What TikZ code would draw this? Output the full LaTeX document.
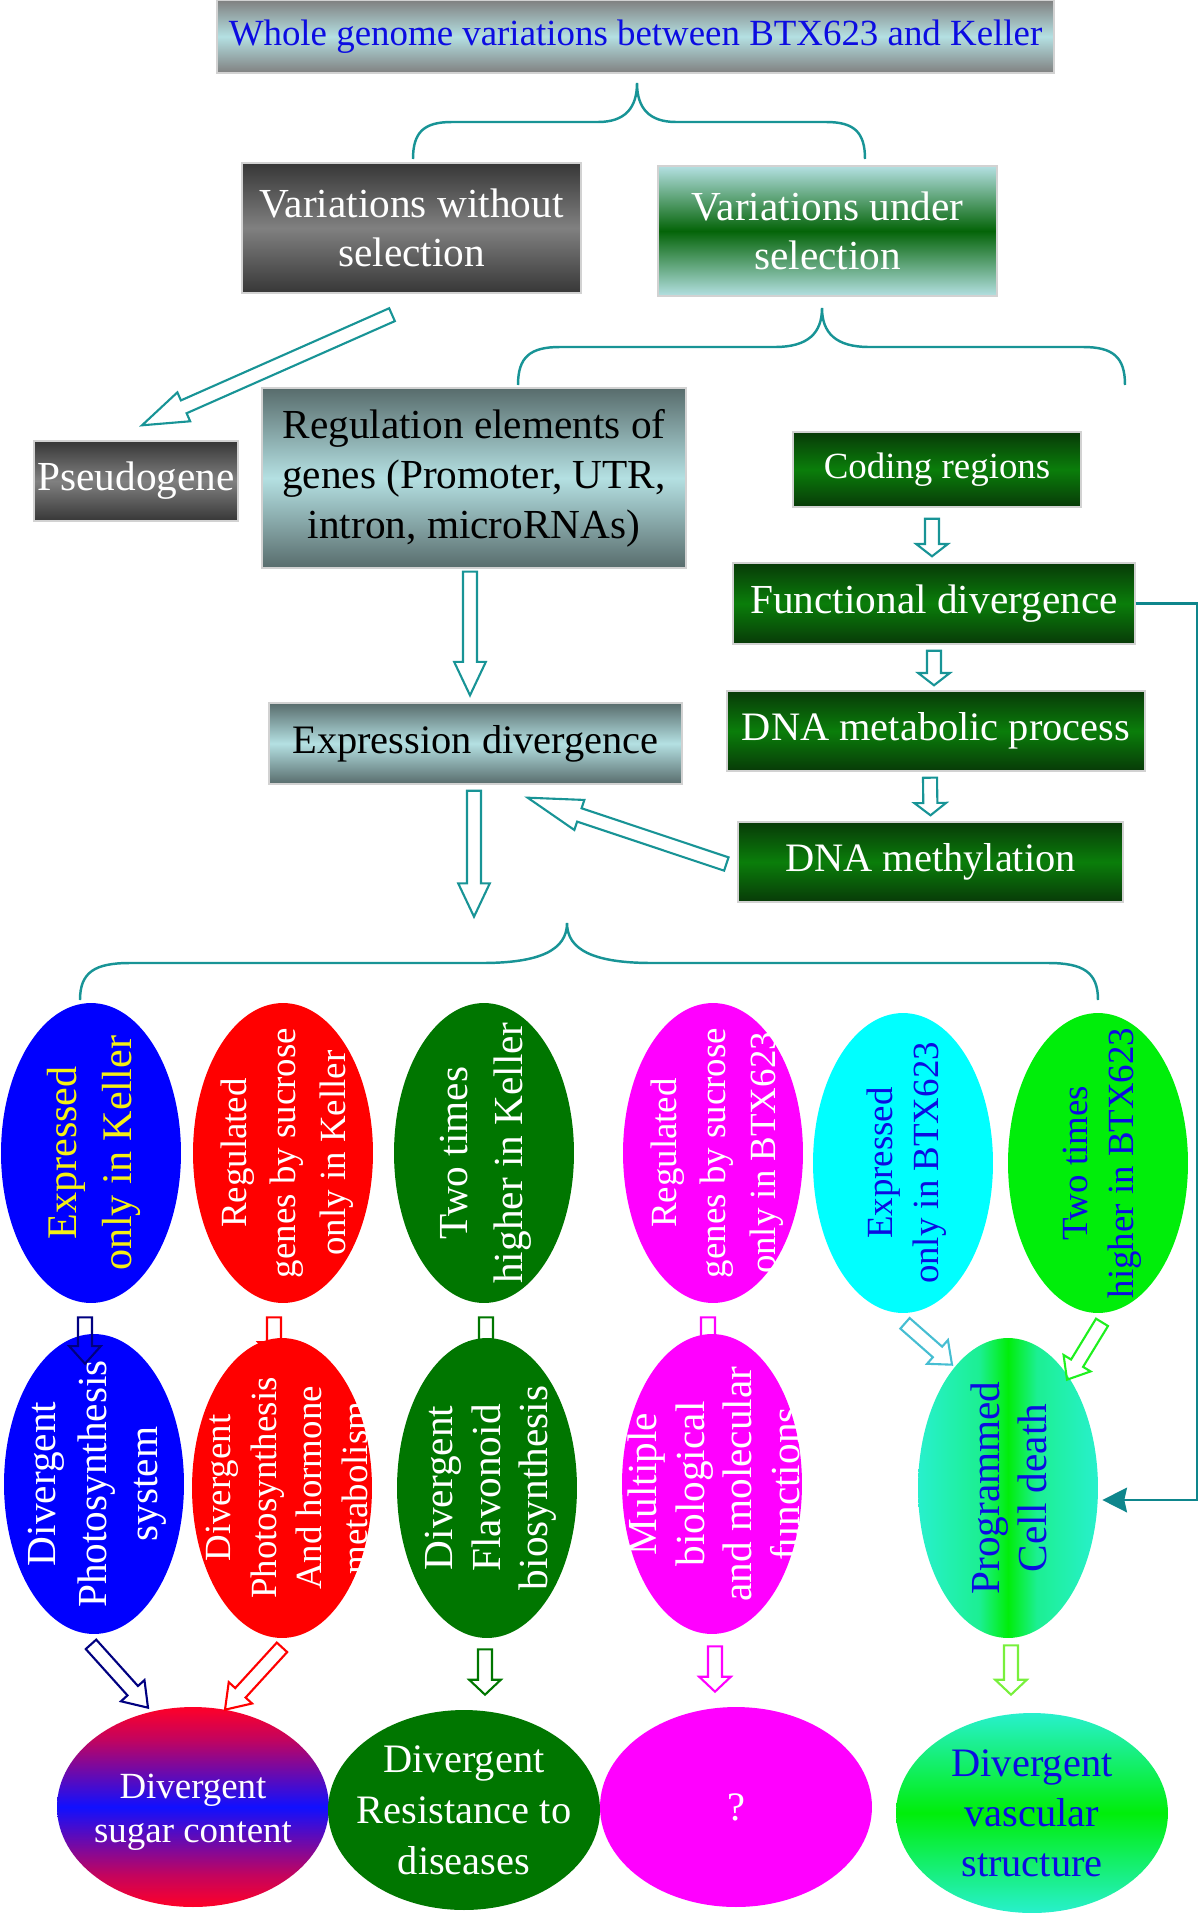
\documentclass[tikz,border=0pt]{standalone}
\usepackage{fontspec}
\setmainfont{Liberation Serif}
\usetikzlibrary{shapes.geometric,calc,arrows.meta}

\definecolor{tealc}{RGB}{24,148,150}
\definecolor{linkc}{RGB}{14,134,140}
\definecolor{navyc}{RGB}{0,0,128}
\definecolor{bluec}{RGB}{0,0,255}
\definecolor{redc}{RGB}{255,0,0}
\definecolor{magentac}{RGB}{255,0,255}
\definecolor{cyanc}{RGB}{0,255,255}
\definecolor{greenc}{RGB}{0,118,0}
\definecolor{limec}{RGB}{0,238,10}
\definecolor{aquac}{RGB}{40,240,205}
\definecolor{cyanarr}{RGB}{70,190,210}
\definecolor{limearr}{RGB}{30,240,30}
\definecolor{lightarr}{RGB}{120,240,60}
\definecolor{paleteal}{RGB}{180,224,226}
\definecolor{slate}{RGB}{88,108,108}
\definecolor{grayd}{RGB}{55,55,55}
\definecolor{graym}{RGB}{128,128,128}
\definecolor{darkg}{RGB}{8,58,8}
\definecolor{midg}{RGB}{10,126,10}
\definecolor{greenv}{RGB}{4,100,8}
\definecolor{textblue}{RGB}{12,12,225}
\definecolor{yellowt}{RGB}{245,240,20}
\definecolor{sugarred}{RGB}{255,0,40}
\definecolor{sugarblue}{RGB}{16,16,255}

\pgfdeclarehorizontalshading{pcdshade}{100bp}{color(0bp)=(aquac); color(25bp)=(aquac); color(42bp)=(aquac!70!limec); color(50bp)=(limec); color(58bp)=(aquac!70!limec); color(75bp)=(aquac); color(100bp)=(aquac)}
\pgfdeclareverticalshading{sugarshade}{100bp}{color(0bp)=(sugarred); color(25bp)=(sugarred); color(33bp)=(sugarred!75!sugarblue); color(50bp)=(sugarblue); color(67bp)=(sugarred!75!sugarblue); color(75bp)=(sugarred); color(100bp)=(sugarred)}

\newcommand{\fsz}[2]{\fontsize{#1}{#2}\selectfont}
\newcommand{\barrow}[4][19pt]{%
  \coordinate (ba-s) at #3;
  \coordinate (ba-e) at #4;
  \coordinate (ba-h) at ($(ba-e)!#1!(ba-s)$);
  \draw[#2, line width=1.2pt, line join=miter]
    ($(ba-s)!4pt!90:(ba-e)$) -- ($(ba-h)!4pt!-90:(ba-s)$) -- ($(ba-h)!9pt!-90:(ba-s)$)
    -- (ba-e) -- ($(ba-h)!9pt!90:(ba-s)$) -- ($(ba-h)!4pt!90:(ba-s)$)
    -- ($(ba-s)!4pt!-90:(ba-e)$) -- cycle;}

\tikzset{
  box/.style={rectangle, draw=gray!35, line width=0.8pt, inner sep=0pt, align=center},
  greybox/.style={top color=grayd, bottom color=grayd, middle color=graym, text=white},
  slatebox/.style={top color=slate, bottom color=slate, middle color=paleteal, text=black},
  greenbox/.style={top color=darkg, bottom color=darkg, middle color=midg, text=white},
  ell/.style={ellipse, inner sep=0pt, minimum width=3.6cm, minimum height=6cm},
  oval/.style={ellipse, inner sep=0pt, minimum width=5.44cm, minimum height=4cm},
  vtxt/.style={rotate=90, align=center, inner sep=0pt},
  htxt/.style={align=center, inner sep=0pt},
  brace/.style={tealc, line width=1.4pt},
  link/.style={linkc, line width=1.6pt, -{Stealth[length=14pt,width=14pt,inset=1.5pt]}}
}

\begin{document}
\begin{tikzpicture}[x=0.02cm,y=-0.02cm]
\useasboundingbox (0,0) rectangle (1200,1913);

\node[box, minimum width=16.74cm, minimum height=1.46cm, top color=graym, bottom color=graym, middle color=paleteal, text=textblue, font=\fsz{21}{25}] (whole) at (635.5,36.5) {Whole genome variations between BTX623 and Keller};
\node[box, greybox, minimum width=6.78cm, minimum height=2.6cm, font=\fsz{23.5}{28}] (varwo) at (411.5,228) {Variations without\\selection};
\node[box, top color=paleteal, bottom color=paleteal, middle color=greenv, text=white, minimum width=6.78cm, minimum height=2.6cm, font=\fsz{23.5}{28}] (varun) at (827.5,231) {Variations under\\selection};
\node[box, greybox, minimum width=4.08cm, minimum height=1.6cm, font=\fsz{23.5}{28}] (pseudo) at (136,481) {Pseudogene};
\node[box, slatebox, minimum width=8.48cm, minimum height=3.6cm, font=\fsz{23.5}{28.5}] (reg) at (474,478) {Regulation elements of\\genes (Promoter, UTR,\\intron, microRNAs)};
\node[box, slatebox, minimum width=8.26cm, minimum height=1.62cm, font=\fsz{23}{28}] (expr) at (475.5,743.5) {Expression divergence};
\node[box, greenbox, minimum width=5.76cm, minimum height=1.5cm, font=\fsz{21}{25}] (coding) at (937,469.5) {Coding regions};
\node[box, greenbox, minimum width=8.04cm, minimum height=1.62cm, font=\fsz{23.5}{28}] (func) at (934,603.5) {Functional divergence};
\node[box, greenbox, minimum width=8.36cm, minimum height=1.6cm, font=\fsz{23}{28}] (dnamet) at (936,731) {DNA metabolic process};
\node[box, greenbox, minimum width=7.7cm, minimum height=1.6cm, font=\fsz{23}{28}] (meth) at (930.5,862) {DNA methylation};

\draw[brace] (413,159) .. controls (413,132) and (424,122) .. (452,122) -- (598,122) .. controls (625,122) and (637,108) .. (637,83) .. controls (637,108) and (649,122) .. (676,122) -- (826,122) .. controls (854,122) and (865,132) .. (865,159);
\draw[brace] (518,385) .. controls (518,357) and (530,347) .. (560,347) -- (775,347) .. controls (808,347) and (822,333) .. (822,308) .. controls (822,333) and (836,347) .. (869,347) -- (1083,347) .. controls (1113,347) and (1125,357) .. (1125,385);
\draw[brace] (80,1000) .. controls (80,972) and (95,963) .. (130,963) -- (482,963) .. controls (540,963) and (567,950) .. (567,923) .. controls (567,950) and (594,963) .. (652,963) -- (1048,963) .. controls (1083,963) and (1098,972) .. (1098,1000);

\foreach \n/\x/\y/\c in {e1/91/1153/bluec, e2/283/1153/redc, e3/484/1153/greenc, e4/713/1153/magentac, e5/903/1163/cyanc, e6/1098/1163/limec}
   \node[ell, fill=\c] (\n) at (\x,\y) {};
\foreach \n/\x/\y/\c in {f1/94/1484/bluec, f2/282/1488/redc, f3/487/1488/greenc, f4/712/1484/magentac}
   \node[ell, fill=\c] (\n) at (\x,\y) {};
\node[ell, shade, shading=pcdshade] (f5) at (1008,1488) {};

\node[oval, shade, shading=sugarshade] (g1) at (193,1807) {};
\node[oval, fill=greenc] (g2) at (464,1810) {};
\node[oval, fill=magentac] (g3) at (736,1807) {};
\node[oval, top color=aquac, bottom color=aquac, middle color=limec] (g4) at (1032,1813) {};

\node[vtxt, text=yellowt, font=\fsz{24}{31}] (e1t) at ($(e1)+(3,0)$) {Expressed\\only in Keller};
\node[vtxt, text=white, font=\fsz{21}{28}] (e2t) at ($(e2)+(4,0)$) {Regulated\\genes by sucrose\\only in Keller};
\node[vtxt, text=white, font=\fsz{23.5}{31}] (e3t) at ($(e3)+(2,0)$) {Two times\\higher in Keller};
\node[vtxt, text=white, font=\fsz{21}{28}] (e4t) at ($(e4)+(4,0)$) {Regulated\\genes by sucrose\\only in BTX623};
\node[vtxt, text=textblue, font=\fsz{21}{26}] (e5t) at ($(e5)+(4,0)$) {Expressed\\only in BTX623};
\node[vtxt, text=textblue, font=\fsz{21}{26}] (e6t) at ($(e6)+(4,0)$) {Two times\\higher in BTX623};
\node[vtxt, text=white, font=\fsz{23.5}{29}] (f1t) at ($(f1)+(3,0)$) {Divergent\\Photosynthesis\\system};
\node[vtxt, text=white, font=\fsz{21}{26}] (f2t) at ($(f2)+(5,0)$) {Divergent\\Photosynthesis\\And hormone\\metabolism};
\node[vtxt, text=white, font=\fsz{23.5}{27}] (f3t) at ($(f3)+(4,0)$) {Divergent\\Flavonoid\\biosynthesis};
\node[vtxt, text=white, font=\fsz{23.5}{27}] (f4t) at ($(f4)+(2,0)$) {Multiple\\biological\\and molecular\\functions};
\node[vtxt, text=textblue, font=\fsz{23.5}{27}] (f5t) at ($(f5)+(1,0)$) {Programmed\\Cell death};

\node[htxt, text=white, font=\fsz{21}{25}] (g1t) at ($(g1)+(0,5)$) {Divergent\\sugar content};
\node[htxt, text=white, font=\fsz{23}{29}] (g2t) at (g2) {Divergent\\Resistance to\\diseases};
\node[htxt, text=white, font=\fsz{23}{28}] (g3t) at (g3) {?};
\node[htxt, text=textblue, font=\fsz{23}{28.5}] (g4t) at (g4) {Divergent\\vascular\\structure};

\barrow[26pt]{tealc}{($(varwo.south)+(-19.5,21)$)}{($(pseudo.north)+(6,-15)$)}
\barrow{tealc}{($(reg.south)+(-4,3)$)}{($(expr.north)+(-5.5,-7)$)}
\barrow{tealc}{($(expr.south)+(-1.5,6)$)}{($(expr.south)+(-1.5,132)$)}
\barrow[31pt]{tealc}{($(meth.west)+(-11,2)$)}{($(expr.south east)+(-155,13)$)}
\barrow[7pt]{tealc}{($(coding.south)+(-5,11)$)}{($(func.north)+(-2,-6)$)}
\barrow[7pt]{tealc}{($(func.south)+(0,6)$)}{($(dnamet.north)+(-2,-5)$)}
\barrow[7pt]{tealc}{($(dnamet.south)+(-6,6)$)}{($(meth.north)+(0,-6)$)}

\barrow[10pt]{navyc}{($(e1.south)+(-6,14)$)}{($(f1.north)+(-9,30)$)}
\barrow[10pt]{redc}{($(e2.south)+(-9,14)$)}{($(f2.north)+(-8,22)$)}
\barrow[10pt]{greenc}{($(e3.south)+(2,14)$)}{($(f3.north)+(-1,22)$)}
\barrow[10pt]{magentac}{($(e4.south)+(-5,14)$)}{($(f4.north)+(-4,27)$)}
\barrow[11pt]{cyanarr}{($(e5.south)+(2,10)$)}{($(f5.north)+(-56,27)$)}
\barrow[11pt]{limearr}{($(e6.south)+(4,9)$)}{($(f5.north)+(59,42)$)}

\barrow[13pt]{navyc}{($(f1.south)+(-3,10)$)}{($(g1.north)+(-45,1)$)}
\barrow[13pt]{redc}{($(f2.south)+(0,9)$)}{($(g1.north)+(32,3)$)}
\barrow[8.5pt]{greenc}{($(f3.south)+(-2,11)$)}{($(g2.north)+(21,-15)$)}
\barrow[8.5pt]{magentac}{($(f4.south)+(3,12)$)}{($(g3.north)+(-21,-15)$)}
\barrow[8.5pt]{lightarr}{($(f5.south)+(3,7)$)}{($(g4.north)+(-21,-18)$)}

\coordinate (rail) at (1197,1500);
\draw[link] (func.east) -| (rail) -- ($(f5.east)+(4,12)$);
\end{tikzpicture}
\end{document}
